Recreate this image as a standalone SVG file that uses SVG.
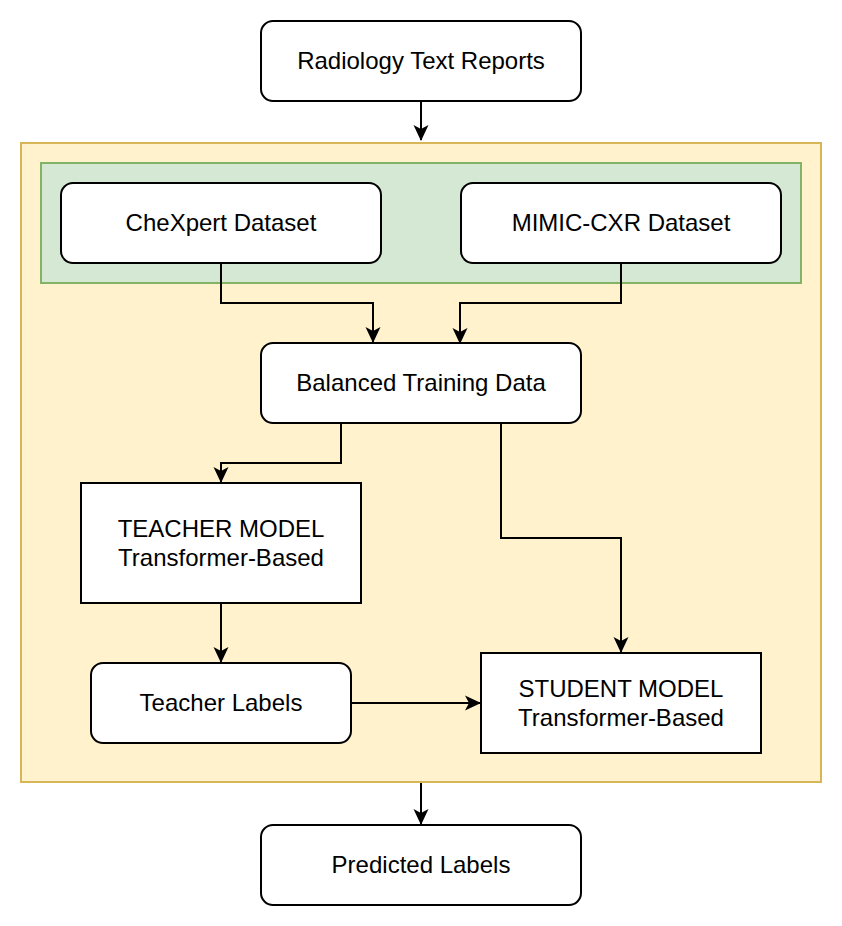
<svg xmlns="http://www.w3.org/2000/svg" width="842" height="926" viewBox="0 0 842 926">
<defs>
<marker id="arr" viewBox="0 0 16 16" refX="15" refY="8" markerWidth="16" markerHeight="16" markerUnits="userSpaceOnUse" orient="auto">
<path d="M0,0.5 L16,8 L0,15.5 L4,8 Z" fill="#000"/>
</marker>
<style>
.box{fill:#fff;stroke:#000;stroke-width:2}
.t{font-family:"Liberation Sans",Arial,sans-serif;font-size:24px;fill:#000;text-anchor:middle;dominant-baseline:central}
.c{fill:none;stroke:#000;stroke-width:2;marker-end:url(#arr)}
</style>
</defs>
<rect width="842" height="926" fill="#fff"/>
<g id="container">
<rect x="21" y="143" width="800" height="639" fill="#fff2cc" stroke="#d6b656" stroke-width="2"/>
</g>
<g id="datasets">
<rect x="41" y="163" width="760" height="120" fill="#d5e8d4" stroke="#82b366" stroke-width="2"/>
</g>
<g id="radiology"><rect class="box" x="261" y="21" width="320" height="80" rx="12"/><text class="t" x="421" y="60">Radiology Text Reports</text></g>
<g id="chexpert"><rect class="box" x="61" y="183" width="320" height="80" rx="12"/><text class="t" x="221" y="222">CheXpert Dataset</text></g>
<g id="mimic"><rect class="box" x="461" y="183" width="320" height="80" rx="12"/><text class="t" x="621" y="222">MIMIC-CXR Dataset</text></g>
<g id="balanced"><rect class="box" x="261" y="343" width="320" height="80" rx="12"/><text class="t" x="421" y="382">Balanced Training Data</text></g>
<g id="teacher"><rect class="box" x="81" y="483" width="280" height="120"/><text class="t" x="221" y="528">TEACHER MODEL</text><text class="t" x="221" y="557">Transformer-Based</text></g>
<g id="teacherLabels"><rect class="box" x="91" y="663" width="260" height="80" rx="12"/><text class="t" x="221" y="702">Teacher Labels</text></g>
<g id="student"><rect class="box" x="481" y="653" width="280" height="100"/><text class="t" x="621" y="688">STUDENT MODEL</text><text class="t" x="621" y="717">Transformer-Based</text></g>
<g id="predicted"><rect class="box" x="261" y="825" width="320" height="80" rx="12"/><text class="t" x="421" y="864">Predicted Labels</text></g>
<g id="connectors">
<path class="c" d="M421,101 V140"/>
<path class="c" d="M221,263 V303 H373 V342"/>
<path class="c" d="M621,263 V303 H460 V343"/>
<path class="c" d="M341,423 V463 H221 V482"/>
<path class="c" d="M501,423 V538 H621 V652"/>
<path class="c" d="M221,603 V662"/>
<path class="c" d="M351,703 H480"/>
<path class="c" d="M421,783 V824"/>
</g>
</svg>
